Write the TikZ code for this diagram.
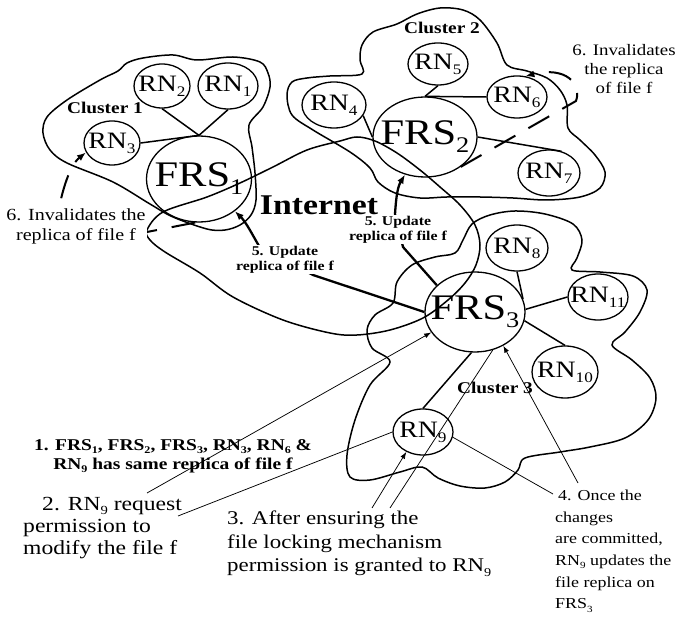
\documentclass[tikz,border=0pt]{standalone}
\usepackage{graphicx}
\usepackage{fontspec}
\setmainfont[FakeStretch=1.18]{Liberation Serif}
\usetikzlibrary{shapes.geometric,arrows.meta}
\newcommand{\fsz}[2]{\fontsize{#1}{#2}\selectfont}
\newcommand{\sbs}[1]{\raisebox{-0.22em}{\scalebox{0.62}{#1}}}
\newcommand{\ctr}[1]{\makebox[0pt]{#1}}
\begin{document}
\begin{tikzpicture}[x=1pt,y=-1pt,
  nd/.style={ellipse,draw,line width=1.3pt,inner sep=0pt},
  rn/.style={nd,font=\fsz{23.5}{25}},
  frs/.style={nd,font=\fsz{36}{38}},
  cloud/.style={line width=1.5pt},
  link/.style={line width=1.5pt},
  thinline/.style={line width=0.75pt},
  thinarr/.style={thinline,-{Latex[length=7pt,width=5pt]}},
  thickarr/.style={line width=2.3pt,-{Latex[length=9pt,width=7pt]}},
  dsh/.style={line width=2pt,dash pattern=on 24pt off 15pt,-{Latex[length=9pt,width=7pt]}},
  boldlbl/.style={font=\bfseries\fsz{13.4}{15},align=center,inner sep=1pt,fill=white},
  clbl/.style={font=\bfseries\fsz{16.4}{18},inner sep=0pt}
]
\fill[white] (0,0) rectangle (680,617);
\useasboundingbox (0,0) rectangle (680,617);

% ---- clouds ----
\draw[cloud] plot[smooth cycle,tension=0.55] coordinates {
 (43,133) (47,117) (67,100) (100,80) (118,71) (127,63) (143,58) (173,55) (197,60)
 (233,57) (260,62) (268,73) (270,87) (263,107) (249,125) (252,147) (255,173)
 (256,200) (251,215) (240,225) (225,230) (207,229) (173,217) (150,204) (113,182)
 (67,163) (50,150)};

\draw[cloud] plot[smooth cycle,tension=0.55] coordinates {
 (287,95) (292,82) (307,78) (330,76) (362,74) (360,60) (362,45) (373,32) (397,24)
 (417,14) (440,8) (463,10) (480,20) (497,43) (507,65) (527,71) (547,78) (560,90)
 (567,105) (568,128) (580,140) (595,155) (605,172) (600,188) (580,197) (547,200)
 (513,198) (480,197) (447,197) (420,198) (395,193) (378,182) (370,168) (350,152)
 (313,130) (292,115)};

\draw[cloud] plot[smooth cycle,tension=0.55] coordinates {
 (147,230) (163,212) (207,197) (240,183) (273,167) (307,150) (340,141) (357,137)
 (375,141) (397,153) (420,170) (440,187) (460,205) (475,225) (480,245) (476,265)
 (465,283) (448,300) (423,318) (390,330) (357,335) (330,333) (283,320) (233,297)
 (200,273) (165,252) (150,240)};

\draw[cloud] plot[smooth cycle,tension=0.55] coordinates {
 (393,303) (397,282) (412,265) (435,257) (455,253) (463,240) (472,224) (490,215)
 (515,211) (545,214) (573,224) (582,240) (577,258) (572,270) (600,272) (633,276)
 (647,290) (640,312) (625,332) (612,345) (632,360) (650,378) (656,398) (648,420)
 (625,438) (590,447) (560,452) (525,458) (518,470) (505,482) (485,488) (460,486)
 (438,478) (422,467) (400,472) (370,480) (350,477) (347,455) (355,420) (370,385)
 (390,362) (372,348) (367,330) (375,315)};

% ---- nodes ----
\node[rn,minimum width=56pt,minimum height=44pt] (RN2) at (162,86) {\ctr{RN\sbs{2}}};
\node[rn,minimum width=60pt,minimum height=46pt] (RN1) at (228,86) {\ctr{RN\sbs{1}}};
\node[rn,minimum width=56pt,minimum height=44pt] (RN3) at (112,143) {\ctr{RN\sbs{3}}};
\node[frs,minimum width=105pt,minimum height=86pt] (FRS1) at (199,179) {\ctr{FRS\sbs{1}}};

\node[rn,minimum width=64pt,minimum height=46pt] (RN4) at (334,105) {\ctr{RN\sbs{4}}};
\node[rn,minimum width=60pt,minimum height=42pt] (RN5) at (438,64) {\ctr{RN\sbs{5}}};
\node[rn,minimum width=60pt,minimum height=42pt] (RN6) at (517,97) {\ctr{RN\sbs{6}}};
\node[frs,minimum width=104pt,minimum height=80pt] (FRS2) at (425,137) {\ctr{FRS\sbs{2}}};
\node[rn,minimum width=62pt,minimum height=46pt] (RN7) at (549,173) {\ctr{RN\sbs{7}}};

\node[frs,minimum width=100pt,minimum height=80pt] (FRS3) at (475,312) {\ctr{FRS\sbs{3}}};
\node[rn,minimum width=62pt,minimum height=46pt] (RN8) at (517,248) {\ctr{RN\sbs{8}}};
\node[rn,minimum width=60pt,minimum height=46pt] (RN11) at (598,297) {\ctr{RN\sbs{11}}};
\node[rn,minimum width=66pt,minimum height=52pt] (RN10) at (565,372) {\ctr{RN\sbs{10}}};
\node[rn,minimum width=60pt,minimum height=46pt] (RN9) at (423,432) {\ctr{RN\sbs{9}}};

% ---- cluster links ----
\draw[link] (RN2.south) -- (FRS1.north);
\draw[link] (RN1.south) -- (FRS1.north);
\draw[link] (RN3.east) -- (FRS1.north);
\draw[link] (RN5.south) -- (FRS2.north);
\draw[link] (RN6.west) -- (FRS2.north);
\draw[link] (RN4.-20) -- (FRS2.west);
\draw[link] (FRS2.east) -- (RN7.60);
\draw[link] (RN8.south) -- (FRS3.15);
\draw[link] (FRS3.3) -- (RN11.west);
\draw[link] (FRS3.-10) -- (RN10.north);
\draw[link] (FRS3.-95) -- (RN9.north);

% ---- helper points ----
\coordinate (c2a) at (147,493);
\coordinate (c2b) at (178,516);
\coordinate (c3a) at (372,508);
\coordinate (c3b) at (390,508);
\coordinate (c4a) at (553,494);
\coordinate (c4b) at (578,483);
\coordinate (u1) at (313,275);
\coordinate (u2) at (259,246);
\coordinate (v1) at (403,247);
\coordinate (v2) at (395,214);
\coordinate (d1) at (576,101);
\coordinate (e1) at (147,232);
\coordinate (e2) at (58,214);

% ---- update arrows ----
\draw[thickarr] (FRS3.west) -- (u1) -- (u2) .. controls (252,234) and (246,222) .. (FRS1.-42);
\draw[thickarr] (FRS3.145) -- (v1) -- (v2) .. controls (396,200) and (397,188) .. (FRS2.-118);

% ---- invalidate arrows ----
\draw[dsh] (FRS2.-40) -- (d1) .. controls (582,84) and (566,66) .. (RN6.68);
\draw[dsh] (FRS1.-95) -- (e1) -- (e2) .. controls (62,190) and (70,165) .. (RN3.200);

% ---- thin connectors ----
\draw[thinarr] (c2a) -- (FRS3.205);
\draw[thinline] (c2b) -- (RN9.west);
\draw[thinarr] (c3a) -- (RN9.-130);
\draw[thinline] (c3b) -- (FRS3.-65);
\draw[thinarr] (c4b) -- (FRS3.-50);
\draw[thinline] (RN9.-10) -- (c4a);

% ---- labels ----
\node[font=\bfseries\fsz{28.6}{30},inner sep=0pt] (inet) at (319,205) {Internet};
\node[clbl] (cl1) at (105,108) {Cluster 1};
\node[clbl] (cl2) at (442,28) {Cluster 2};
\node[clbl] (cl3) at (495,388) {Cluster 3};

\node[boldlbl,anchor=north] (L5a) at (285,245) {5. Update\\replica of file f};
\node[boldlbl,anchor=north] (L5b) at (398,215) {5. Update\\replica of file f};

\node[font=\fsz{17}{20},align=center,anchor=north,inner sep=1pt,fill=white] (L6a) at (76,208) {6. Invalidates the\\replica of file f};
\node[font=\fsz{16}{19},align=center,anchor=north,inner sep=0pt] (L6b) at (624,44) {6. Invalidates\\the replica\\of file f};

\node[font=\bfseries\fsz{16.5}{19},align=center,anchor=north,inner sep=0pt] (L1) at (173,439)
  {1. FRS\sbs{1}, FRS\sbs{2}, FRS\sbs{3}, RN\sbs{3}, RN\sbs{6} \&\\RN\sbs{9} has same replica of file f};
\node[font=\fsz{20}{22},align=left,anchor=north west,inner sep=0pt] (L2) at (23,497)
  {\hspace*{19pt}2. RN\sbs{9} request\\permission to\\modify the file f};
\node[font=\fsz{19.4}{23.5},align=left,anchor=north west,inner sep=0pt] (L3) at (227,511)
  {3. After ensuring the\\file locking mechanism\\permission is granted to RN\sbs{9}};
\node[font=\fsz{15.2}{21.6},align=left,anchor=north west,inner sep=0pt] (L4) at (555,490)
  {\hspace*{3pt}4. Once the\\changes\\are committed,\\RN\sbs{9} updates the\\file replica on\\FRS\sbs{3}};
\end{tikzpicture}
\end{document}
